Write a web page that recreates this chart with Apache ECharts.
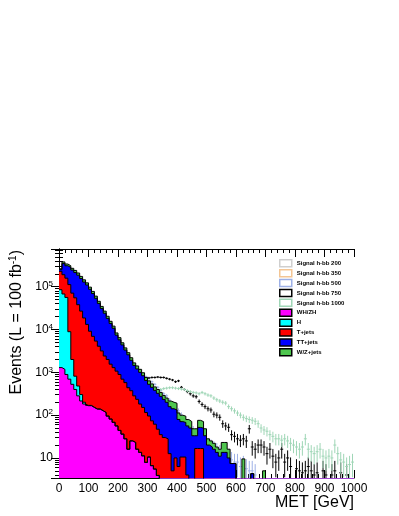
<!DOCTYPE html>
<html><head><meta charset="utf-8">
<script src="https://cdn.jsdelivr.net/npm/echarts@6/dist/echarts.min.js"></script>
<style>html,body{margin:0;padding:0;background:#fff}#c{width:399px;height:516px}</style>
</head><body><div id="c"></div>
<script>
// ---- binning (10 GeV bins, 0..1000 GeV) ----
const binWidth = 10;
const nBins = 100;

// ---- background components (events per bin) ----
const whzh = [1290,1175,891,692,525,398,282,214,182,166,166,151,138,138,126,115,95,81,68,56,44,36,28,16,25,23,16,13.5,11.2,7.9,10.5,6.6,5.5,3.9];
const higgs = [83700,66400,55300,8200,1470,415,197,88,18,3,3,2,2,1,1];
const tjets = [144000,123000,102000,103000,68800,54200,37500,26600,18400,13000,8950,6770,5230,3930,3030,2290,1900,1470,1220,1010,847,656,547,421,347,259,218,168,140,107,85,67,56,43,35,30,28,12.6,5,10,6.3,10.5,10.5,4,0,0,16.6,16.6,16.6];
const ttjets = [22000,156000,151000,170000,174000,159000,148000,128000,110000,96800,78000,62300,48300,36600,27700,21600,16200,12300,9410,6340,4860,3680,2740,2130,1540,1170,966,818,681,531,430,373,318,277,240,204,172,145,136,122,73,60,57,52,50,33,16.4,35,33,33,20,18,16,13.5,11,13.5,13.5,10,7.4,7.4,0,0,0,0,0,4.3];
const wzjets = [12000,33000,30000,27000,24000,26000,23000,19000,16000,13000,10600,8400,6600,5000,3800,2900,2200,1700,1300,910,710,530,410,310,280,210,210,175,145,113,106,90,77,74,64,54,51,56,59,58,33,29,27,23,21,15,15,24,21,15,8,7,6,4.5,5,9.5,9.5,6,0,0,0,0,9.5,0,0,0,0,0,0,5];

// ---- signals (events per bin) ----
const sig200 = [100,158,200,224,240,251,251,240,224,200,178,158,148,132,112,100,89,76,66,58,50,45,40,35,30,26,24,21,19,16,14,12.6,10,9,8,7,6.3,5,5.6,0,4.5];
const sig350 = [200,282,355,447,537,631,759,851,933,1000,1070,1120,1150,1100,1050,933,794,708,603,525,457,398,355,316,282,251,224,200,166,141,126,112,95,83,76,66,58,50,42,35,32,28,22,20,16,14,11,10,8,7,6.3,5.6,5,0,4,0,4];
const sig500 = [40,52,71,83,100,120,141,166,200,240,282,316,355,398,447,490,525,575,631,676,708,759,794,832,851,891,891,871,851,794,708,603,525,447,380,316,282,224,191,158,126,100,79,66,52,45,38,32,28,25,21,20,18,16,14,12.6,11,10,9,8,8,6.3,7,5.6,5,5,4];
const sig750 = [12.6,20,23,28,35,47,56,71,79,95,112,126,158,178,200,229,257,282,316,355,398,417,447,501,537,575,603,661,692,724,741,759,759,776,759,759,724,692,661,603,631,447,398,355,316,282,269,209,178,158,141,132,105,100,89,63,56,52,35,32,28,26,28,25,48,18,16,20,20,18,12.6,16,11,8,10,16,8,10,6.3,0,5.6,5,4.5,5,6.3,5,4,4.5,0,5,4,0,4,5,0,4.5,0,4,0,0];
const sig1000 = [6.3,8,10,12,14,16.6,20,22,25,28,32,40,50,56,63,71,79,89,100,112,126,141,158,174,186,204,224,240,251,269,282,302,316,355,398,417,427,437,437,427,417,407,398,372,355,339,331,316,339,316,295,282,251,229,214,200,191,158,141,126,112,100,89,83,79,76,72,63,50,45,42,35,32,28,28,26,28,25,22,20,18,16,18,28,16,14,12.6,14,16,11,10,11,10,20,12.6,9,8,6.3,7,8];
const eventWeight = 2.5; // MC weight used for statistical error sqrt(w*N)

const yMin = 3.4, yMax = 7.6e5;
const FONT = 'Liberation Sans, Arial, Helvetica, sans-serif';

function val(arr, i){ return i < arr.length ? arr[i] : 0; }
const layers = [whzh, higgs, tjets, ttjets, wzjets];
const layerNames = ['WH/ZH','H','T+jets','TT+jets','W/Z+jets'];
const layerColors = ['#ff00ff','#00ffff','#ff0000','#0000ff','#4fc64f'];

// cumulative stack tops
const cum = [];
for (let k = 0; k < layers.length; k++) {
  const c = [];
  for (let i = 0; i < nBins; i++) c.push(val(layers[k], i) + (k ? cum[k-1][i] : 0));
  cum.push(c);
}
function stepData(c){
  const d = [];
  for (let i = 0; i < nBins; i++) d.push([i*binWidth, c[i] > 0 ? c[i] : 1e-3]);
  d.push([nBins*binWidth, c[nBins-1] > 0 ? c[nBins-1] : 1e-3]);
  return d;
}

const series = [];
for (let k = layers.length - 1; k >= 0; k--) {
  series.push({
    name: layerNames[k], type: 'line', step: 'end', symbol: 'none', clip: true,
    data: stepData(cum[k]),
    lineStyle: { color: '#000', width: 1 },
    itemStyle: { color: layerColors[k] },
    areaStyle: { color: layerColors[k], opacity: 1, origin: 'start' },
    animation: false, silent: true
  });
}

const signals = [
  {name:'Signal h-bb 200', data: sig200, color:'#cfcfcf'},
  {name:'Signal h-bb 350', data: sig350, color:'#f3c594'},
  {name:'Signal h-bb 500', data: sig500, color:'#9db0e6'},
  {name:'Signal h-bb 750', data: sig750, color:'#000000'},
  {name:'Signal h-bb 1000', data: sig1000, color:'#9fd6b6'}
];
signals.forEach(s => {
  const d = [];
  s.data.forEach((v, i) => { if (v > 0) d.push([i*binWidth + binWidth/2, v, Math.sqrt(eventWeight*v)]); });
  series.push({
    name: s.name, type: 'custom', data: d, itemStyle: {color: s.color}, animation: false, silent: true,
    renderItem: (params, api) => {
      const x = api.value(0), v = api.value(1), e = api.value(2);
      if (v < yMin) return null;
      const lo = Math.max(v - e, yMin), hi = Math.min(v + e, yMax);
      const a = api.coord([x, lo]), b = api.coord([x, hi]);
      const l = api.coord([x - binWidth/2, v]), r = api.coord([x + binWidth/2, v]);
      return {type:'group', children:[
        {type:'line', shape:{x1:a[0], y1:a[1], x2:b[0], y2:b[1]}, style:{stroke:s.color, lineWidth:1}},
        {type:'line', shape:{x1:l[0], y1:l[1], x2:r[0], y2:r[1]}, style:{stroke:s.color, lineWidth:1}}
      ]};
    }
  });
});

const legendData = signals.map(s => ({name: s.name, icon:'rect', itemStyle:{color:'#fff', borderColor:s.color, borderWidth:1.5}}))
  .concat(layerNames.map((n,k) => ({name:n, icon:'rect', itemStyle:{color:layerColors[k], borderColor:'#000', borderWidth:1.5}})));

function logLabel(v){
  const e = Math.round(Math.log10(v));
  if (Math.abs(v - Math.pow(10, e)) > 1e-6 * v) return '';
  return e === 1 ? '10' : '10{s|' + e + '}';
}

const axisCommonX = {
  type:'value', min:0, max:1000, interval:100, gridIndex:0,
  axisLine:{show:true, lineStyle:{color:'#000', width:1}},
  axisTick:{show:true, inside:true, length:8, lineStyle:{color:'#000'}},
  minorTick:{show:true, splitNumber:5, length:4, lineStyle:{color:'#000'}},
  splitLine:{show:false}, minorSplitLine:{show:false}
};
const axisCommonY = {
  type:'log', logBase:10, min:yMin, max:yMax, gridIndex:0,
  axisLine:{show:true, lineStyle:{color:'#000', width:1}},
  axisTick:{show:true, inside:true, length:8, lineStyle:{color:'#000'}},
  minorTick:{show:true, splitNumber:9, length:4, lineStyle:{color:'#000'}},
  splitLine:{show:false}, minorSplitLine:{show:false}
};

const option = {
  animation:false,
  backgroundColor:'#fff',
  grid:{left:59, top:249, width:295, height:229, containLabel:false, outerBoundsMode:'none'},
  legend:{
    left:279, top:259, orient:'vertical', padding:0, itemWidth:12, itemHeight:7, itemGap:1.4,
    selectedMode:false, data:legendData,
    textStyle:{fontSize:6, fontWeight:'bold', fontFamily:FONT, color:'#000', lineHeight:7}
  },
  graphic:[{
    type:'text', x:17, y:250, rotation:Math.PI/2, silent:true,
    style:{text:'Events (L = 100 fb{s|-1})', fontSize:16, fontFamily:FONT, fill:'#000',
      align:'right', verticalAlign:'middle', lineHeight:18,
      rich:{s:{fontSize:10, verticalAlign:'top', lineHeight:18, fill:'#000', fontFamily:FONT}}}
  }],
  xAxis:[
    Object.assign({}, axisCommonX, {
      position:'bottom',
      axisLabel:{show:true, fontSize:12, color:'#000', fontFamily:FONT, margin:5, formatter: v => String(v)},
      name:'MET [GeV]', nameLocation:'end', nameGap:0,
      nameTextStyle:{fontSize:16, color:'#000', fontFamily:FONT, align:'right', verticalAlign:'top', padding:[17,0,0,0]}
    }),
    Object.assign({}, axisCommonX, {position:'top', axisLabel:{show:false}})
  ],
  yAxis:[
    Object.assign({}, axisCommonY, {
      position:'left',
      axisLabel:{show:true, fontSize:12, color:'#000', fontFamily:FONT, margin:6, showMinLabel:false, showMaxLabel:false,
        formatter: logLabel, rich:{s:{fontSize:8, verticalAlign:'top', lineHeight:14, color:'#000', fontFamily:FONT}}}
    }),
    Object.assign({}, axisCommonY, {position:'right', axisLabel:{show:false}})
  ],
  series: series.map(s => Object.assign(s, {xAxisIndex:0, yAxisIndex:0}))
};

const chart = echarts.init(document.getElementById('c'), null, {renderer:'canvas'});
chart.setOption(option);
</script>
</body></html>
